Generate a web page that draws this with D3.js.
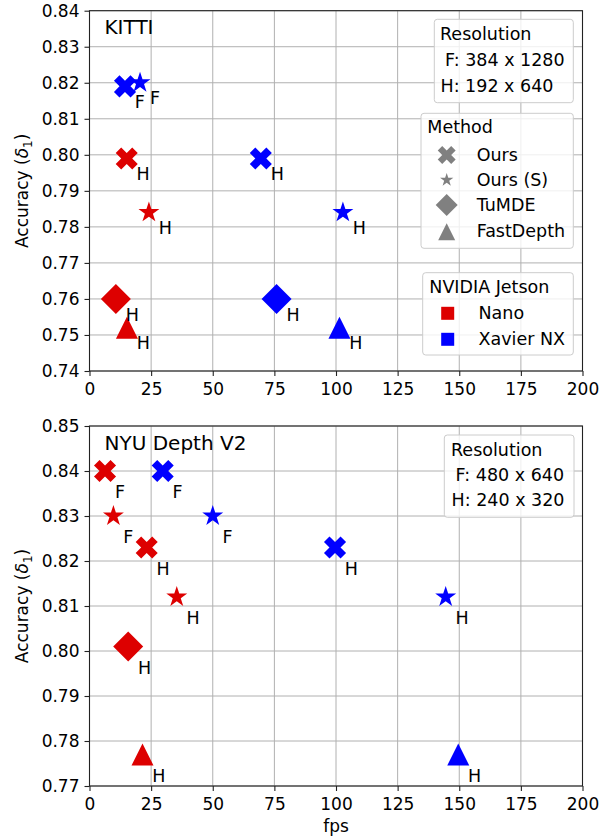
<!DOCTYPE html>
<html>
<head>
<meta charset="utf-8">
<script src="https://cdn.jsdelivr.net/npm/d3@7"></script>
<style>
  body { margin: 0; background: #fff; }
  text { font-family: "DejaVu Sans", sans-serif; }
</style>
</head>
<body>
<div id="chart"></div>
<script>
// ---- data ----
var fpsTicks = [0, 25, 50, 75, 100, 125, 150, 175, 200];
var kittiTicks = [0.74, 0.75, 0.76, 0.77, 0.78, 0.79, 0.80, 0.81, 0.82, 0.83, 0.84];
var nyuTicks = [0.77, 0.78, 0.79, 0.80, 0.81, 0.82, 0.83, 0.84, 0.85];

var methods = ["Ours", "Ours (S)", "TuMDE", "FastDepth"];
var devices = ["Nano", "Xavier NX"];

var kittiMethod = ["Ours", "Ours (S)", "Ours", "Ours", "Ours (S)", "Ours (S)", "TuMDE", "TuMDE", "FastDepth", "FastDepth"];
var kittiDevice = ["Xavier NX", "Xavier NX", "Nano", "Xavier NX", "Nano", "Xavier NX", "Nano", "Xavier NX", "Nano", "Xavier NX"];
var kittiFps = [14.4, 20.5, 15.1, 69.5, 24.1, 102.8, 10.7, 75.9, 15.2, 101.4];
var kittiAcc = [0.819, 0.820, 0.799, 0.799, 0.784, 0.784, 0.760, 0.760, 0.752, 0.752];
var kittiRes = ["F", "F", "H", "H", "H", "H", "H", "H", "H", "H"];
var kittiResLines = ["Resolution", "F: 384 x 1280", "H: 192 x 640"];

var nyuMethod = ["Ours", "Ours", "Ours (S)", "Ours (S)", "Ours", "Ours", "Ours (S)", "Ours (S)", "TuMDE", "FastDepth", "FastDepth"];
var nyuDevice = ["Nano", "Xavier NX", "Nano", "Xavier NX", "Nano", "Xavier NX", "Nano", "Xavier NX", "Nano", "Nano", "Xavier NX"];
var nyuFps = [6.3, 29.7, 9.7, 50, 23.2, 99.6, 35.4, 144.5, 15.7, 21.5, 149.6];
var nyuAcc = [0.840, 0.840, 0.830, 0.830, 0.823, 0.823, 0.812, 0.812, 0.801, 0.777, 0.777];
var nyuRes = ["F", "F", "F", "F", "H", "H", "H", "H", "H", "H", "H"];
var nyuResLines = ["Resolution", "F: 480 x 640", "H: 240 x 320"];

// ---- marker shapes ----
var markX = {draw: function(ctx, r) {
  var a = r / 3, c = Math.SQRT1_2;
  var pts = [[-a,-r],[a,-r],[a,-a],[r,-a],[r,a],[a,a],[a,r],[-a,r],[-a,a],[-r,a],[-r,-a],[-a,-a]];
  pts.forEach(function(p, i) {
    var x = (p[0] - p[1]) * c, y = (p[0] + p[1]) * c;
    if (i) ctx.lineTo(x, y); else ctx.moveTo(x, y);
  });
  ctx.closePath();
}};
var markStar = {draw: function(ctx, r) {
  for (var i = 0; i < 10; i++) {
    var rr = i % 2 ? r * 0.381966 : r;
    var ang = -Math.PI / 2 + i * Math.PI / 5;
    if (i) ctx.lineTo(rr * Math.cos(ang), rr * Math.sin(ang));
    else ctx.moveTo(rr * Math.cos(ang), rr * Math.sin(ang));
  }
  ctx.closePath();
}};
var markDiamond = {draw: function(ctx, r) {
  ctx.moveTo(0, -r); ctx.lineTo(r, 0); ctx.lineTo(0, r); ctx.lineTo(-r, 0); ctx.closePath();
}};
var markTri = {draw: function(ctx, r) {
  ctx.moveTo(0, -r); ctx.lineTo(-r, r); ctx.lineTo(r, r); ctx.closePath();
}};

var shape = {"Ours": markX, "Ours (S)": markStar, "TuMDE": markDiamond, "FastDepth": markTri};
var plotSize = {"Ours": 11.7, "Ours (S)": 11, "TuMDE": 15, "FastDepth": 11};
var legSize = {"Ours": 9.5, "Ours (S)": 7, "TuMDE": 11, "FastDepth": 8.5};
var color = {"Nano": "#dd0000", "Xavier NX": "#0000ff"};

// ---- layout ----
var width = 609, height = 837;
var left = 89.5, right = 582.5;
var fs = 17.5, tfs = 17;

var svg = d3.select("#chart").append("svg")
    .attr("width", width)
    .attr("height", height);

var x = d3.scaleLinear().domain([0, 200]).range([left, right]);

function panel(top, bottom, ticks, fpsArr, accArr, methArr, devArr, resArr, title) {
  var y = d3.scaleLinear().domain([ticks[0], ticks[ticks.length - 1]]).range([bottom, top]);
  var g = svg.append("g");

  // grid
  g.selectAll(".gx").data(fpsTicks).enter().append("line")
      .attr("x1", function(d) { return x(d); }).attr("x2", function(d) { return x(d); })
      .attr("y1", top).attr("y2", bottom)
      .style("stroke", "#b0b0b0").style("stroke-width", 1);
  g.selectAll(".gy").data(ticks).enter().append("line")
      .attr("x1", left).attr("x2", right)
      .attr("y1", function(d) { return y(d); }).attr("y2", function(d) { return y(d); })
      .style("stroke", "#b0b0b0").style("stroke-width", 1);

  // points
  var idx = d3.range(fpsArr.length);
  g.selectAll(".pt").data(idx).enter().append("path")
      .attr("transform", function(i) { return "translate(" + x(fpsArr[i]) + "," + y(accArr[i]) + ")"; })
      .attr("d", function(i) { return d3.symbol(shape[methArr[i]], plotSize[methArr[i]])(); })
      .style("fill", function(i) { return color[devArr[i]]; });

  g.selectAll(".lbl").data(idx).enter().append("text")
      .attr("x", function(i) { return x(fpsArr[i] + 4); })
      .attr("y", function(i) { return y(accArr[i] - 0.006); })
      .style("font-size", fs + "px")
      .text(function(i) { return resArr[i]; });

  // axes
  var gx = g.append("g")
      .attr("transform", "translate(0," + bottom + ")")
      .call(d3.axisBottom(x).tickValues(fpsTicks).tickSize(5).tickPadding(7).tickFormat(d3.format("d")));
  var gy = g.append("g")
      .attr("transform", "translate(" + left + ",0)")
      .call(d3.axisLeft(y).tickValues(ticks).tickSize(5).tickPadding(5).tickFormat(d3.format(".2f")));
  [gx, gy].forEach(function(a) {
    a.select(".domain").remove();
    a.selectAll("line").style("stroke", "#222").style("stroke-width", 1.1);
    a.selectAll("text").style("font-size", tfs + "px").style("fill", "#000")
      .style("font-family", "'DejaVu Sans', sans-serif");
  });

  g.append("rect")
      .attr("x", left).attr("y", top)
      .attr("width", right - left).attr("height", bottom - top)
      .style("fill", "none").style("stroke", "#222").style("stroke-width", 1.1);

  g.append("text")
      .attr("x", left + 15).attr("y", top + 23.6)
      .style("font-size", "20px")
      .text(title);

  var ylab = g.append("text")
      .attr("transform", "translate(28," + ((top + bottom) / 2) + ") rotate(-90)")
      .attr("text-anchor", "middle")
      .style("font-size", tfs + "px");
  ylab.append("tspan").text("Accuracy (");
  ylab.append("tspan").style("font-style", "italic").text("δ");
  ylab.append("tspan").attr("dy", 4).style("font-size", "12px").text("1");
  ylab.append("tspan").attr("dy", -4).text(")");

  return g;
}

function box(g, bx, by, bw, bh) {
  g.append("rect")
      .attr("x", bx).attr("y", by).attr("width", bw).attr("height", bh)
      .attr("rx", 3)
      .style("fill", "#fff").style("fill-opacity", 0.8)
      .style("stroke", "#cccccc").style("stroke-width", 1);
}

function resBox(g, bx, by, bw, bh, lines, xs, ys) {
  box(g, bx, by, bw, bh);
  lines.forEach(function(t, i) {
    g.append("text").attr("x", xs[i]).attr("y", ys[i]).style("font-size", fs + "px").text(t);
  });
}

var g1 = panel(10.7, 371, kittiTicks, kittiFps, kittiAcc, kittiMethod, kittiDevice, kittiRes, "KITTI");
var g2 = panel(426, 786, nyuTicks, nyuFps, nyuAcc, nyuMethod, nyuDevice, nyuRes, "NYU Depth V2");

resBox(g1, 434.3, 19.3, 139, 83.4, kittiResLines, [440, 445, 440.5], [40, 66, 91.7]);
resBox(g2, 444.3, 435, 129.7, 82.3, nyuResLines, [451, 455.6, 451.6], [456, 481, 506]);

// Method legend
box(g1, 421, 113.3, 152.3, 135);
g1.append("text").attr("x", 427.3).attr("y", 133.3).style("font-size", fs + "px").text("Method");
var mY = [155, 180, 205, 231.7];
methods.forEach(function(m, i) {
  g1.append("path")
      .attr("transform", "translate(446.7," + mY[i] + ")")
      .attr("d", d3.symbol(shape[m], legSize[m])())
      .style("fill", "#808080");
  g1.append("text").attr("x", 476.7).attr("y", mY[i] + 5.5).style("font-size", fs + "px").text(m);
});

// Device legend
box(g1, 422.7, 272.7, 150.6, 82.3);
g1.append("text").attr("x", 429.3).attr("y", 293.3).style("font-size", fs + "px").text("NVIDIA Jetson");
var dY = [313.3, 339.3];
devices.forEach(function(d, i) {
  g1.append("rect")
      .attr("x", 447.7 - 6.5).attr("y", dY[i] - 6.5)
      .attr("width", 13).attr("height", 13)
      .style("fill", color[d]);
  g1.append("text").attr("x", 478.5).attr("y", dY[i] + 5.5).style("font-size", fs + "px").text(d);
});

// x label
svg.append("text")
    .attr("x", (left + right) / 2).attr("y", 832)
    .attr("text-anchor", "middle")
    .style("font-size", tfs + "px")
    .text("fps");
</script>
</body>
</html>
